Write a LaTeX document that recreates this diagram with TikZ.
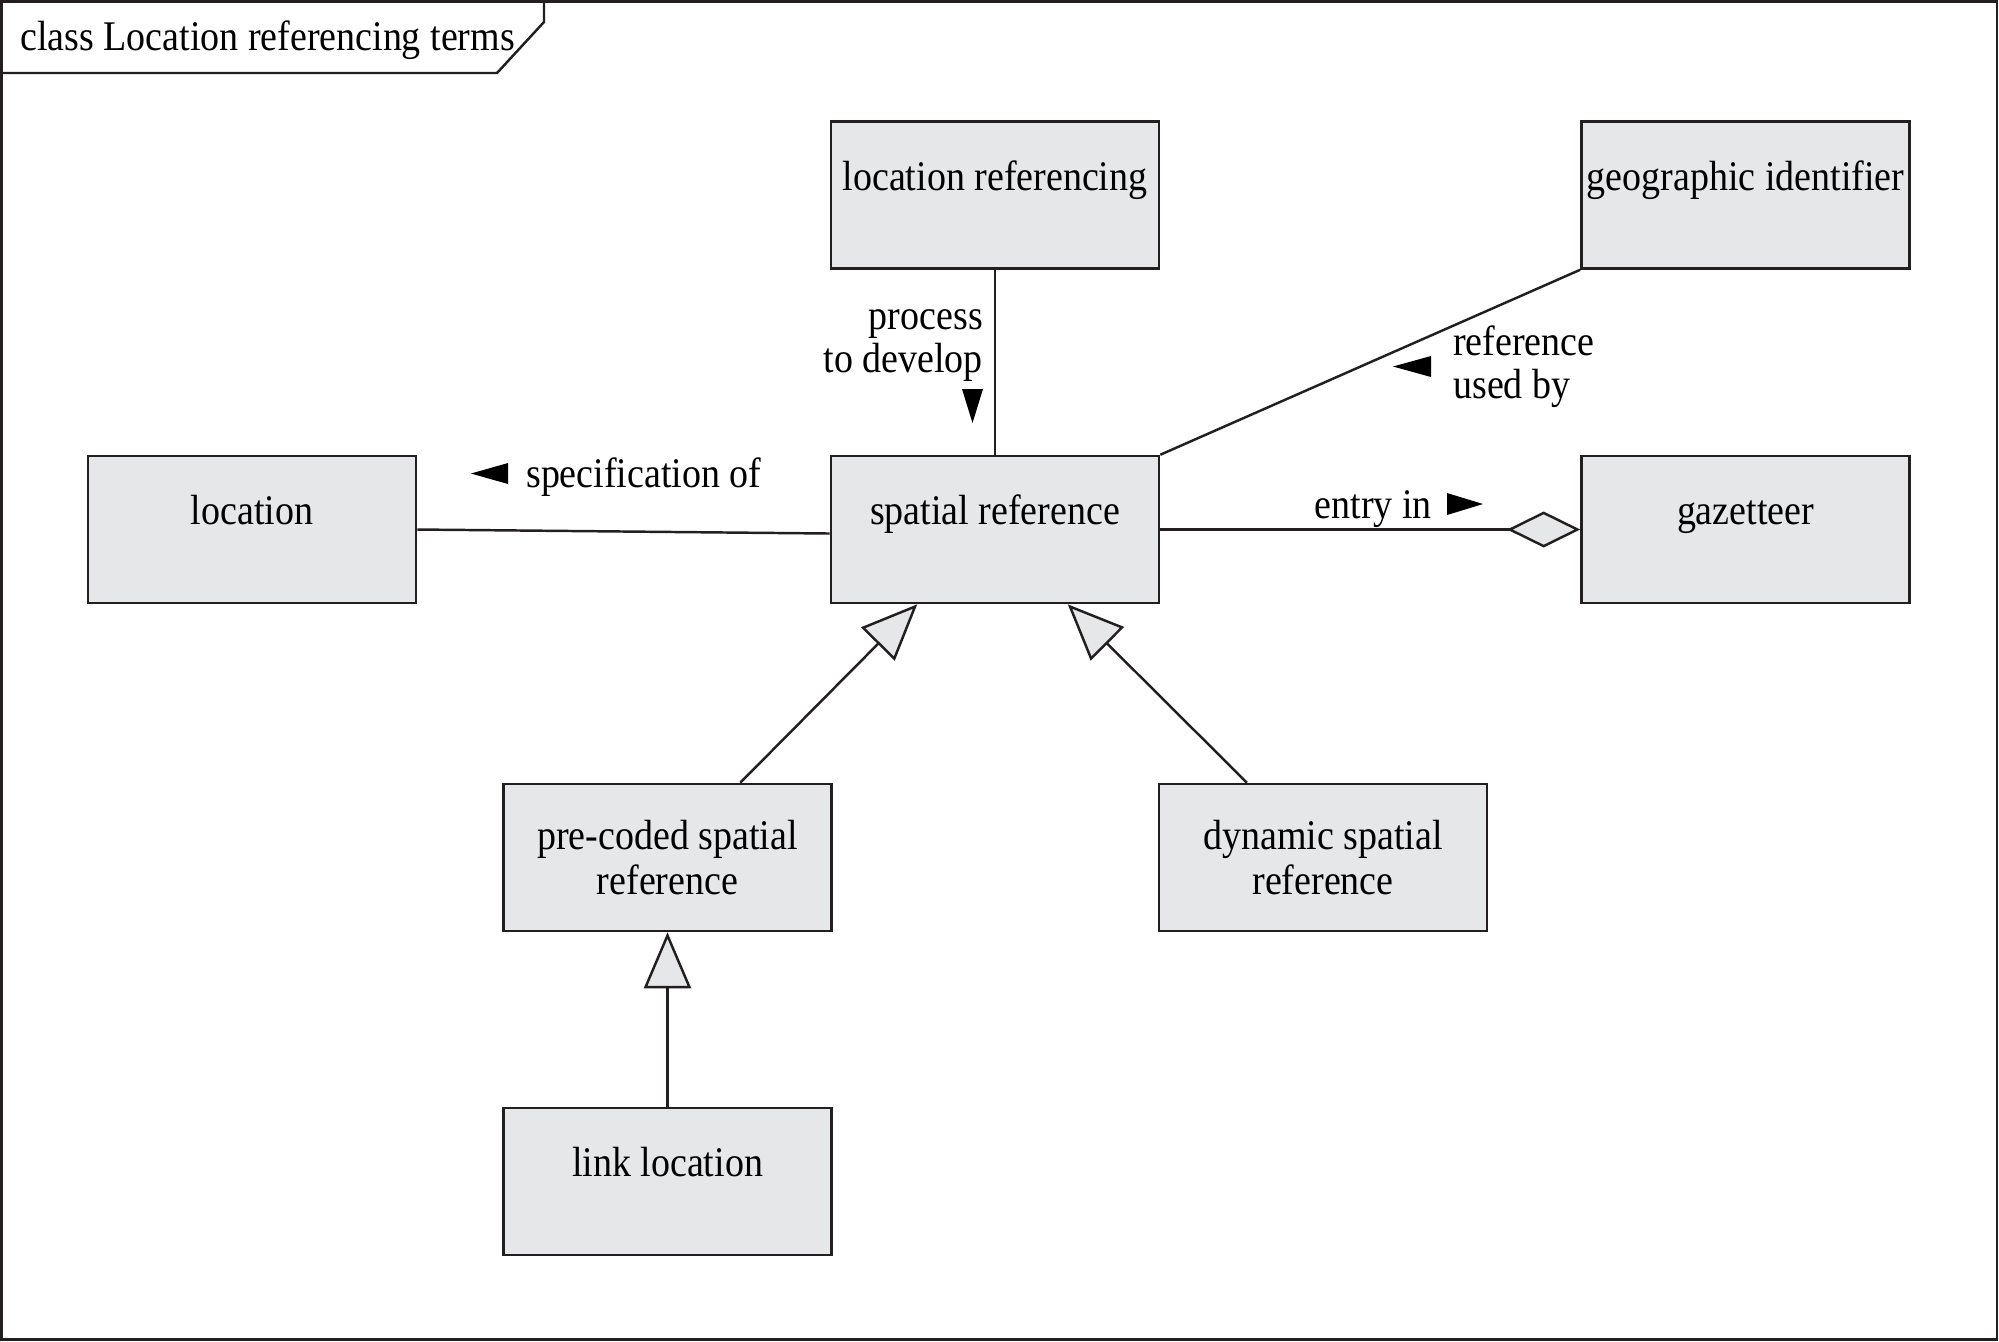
\documentclass[tikz,border=0pt]{standalone}
\usepackage{fontspec}
\setmainfont{Liberation Serif}[FakeStretch=0.9]
\usetikzlibrary{arrows.meta,calc}
\definecolor{classgray}{RGB}{230, 231, 232}
\definecolor{inkline}{RGB}{35, 31, 32}

\begin{document}
\begin{tikzpicture}[x=0.01cm, y=-0.01cm, line width=0.7pt, draw=inkline,
        umlclass/.style={draw=inkline, fill=classgray, minimum width=3.28cm, minimum height=1.47cm,
                         inner xsep=1pt, align=center, font=\fontsize{12}{13}\selectfont},
        oneline/.style={text height=0.3cm, text depth=0.4cm},
        lbl/.style={inner sep=0pt, font=\fontsize{12}{12}\selectfont},
        generalize/.style={-{Triangle[length=0.56cm, width=0.47cm, fill=classgray]}},
        aggregate/.style={-{Diamond[length=0.73cm, width=0.36cm, fill=classgray]}}]
            \useasboundingbox                                              (0, 0) rectangle (1999, 1341);
            % frame and name tab
            \draw[inkline]                                                 (1.5, 1.5) rectangle (1997, 1339.5);
            \draw[inkline]                                                 (0, 73) -- (497, 73) -- (544, 22) -- (544, 0);
            \node[lbl, anchor=base west] (title)                           at (19, 50) {class Location referencing terms};
            % classes
            \node[umlclass, oneline] (locref)                              at ( 995.0,  195.0) {location referencing};
            \node[umlclass, oneline] (geoid)                               at (1745.5,  195.0) {geographic identifier};
            \node[umlclass, oneline] (location)                            at ( 252.0,  529.5) {location};
            \node[umlclass, oneline] (spatial)                             at ( 995.0,  529.5) {spatial reference};
            \node[umlclass, oneline] (gazetteer)                           at (1745.5,  529.5) {gazetteer};
            \node[umlclass]          (precoded)                            at ( 667.5,  857.5) {pre-coded spatial\\reference};
            \node[umlclass]          (dynamic)                             at (1323.0,  857.5) {dynamic spatial\\reference};
            \node[umlclass, oneline] (link)                                at ( 667.5, 1181.5) {link location};
            % associations
            \draw[inkline]            (locref.south) -- (spatial.north);
            \draw[inkline]            (geoid.south west) -- (spatial.north east);
            \draw[inkline]            (location.east) -- ([yshift=-0.04cm]spatial.west);
            \draw[inkline, aggregate] (spatial.east) -- (gazetteer.west);
            % generalizations
            \draw[inkline, generalize] ($(precoded.north west)!0.72!(precoded.north east)$)
                                    -- ($(spatial.south west)!0.265!(spatial.south east)$);
            \draw[inkline, generalize] ($(dynamic.north west)!0.27!(dynamic.north east)$)
                                    -- ($(spatial.south west)!0.72!(spatial.south east)$);
            \draw[inkline, generalize] (link.north) -- (precoded.south);
            % association names
            \node[lbl, align=right, anchor=base east] (proclbl)            at ( 984, 372) {process\\to develop};
            \node[lbl, align=left,  anchor=base west] (usedlbl)            at (1452, 398) {reference\\used by};
            \node[lbl, anchor=base west]              (speclbl)            at ( 525, 487) {specification of};
            \node[lbl, anchor=base east]              (entrylbl)           at (1433, 518) {entry in};
            % reading direction marks
            \fill[black] ( 962, 389) -- ( 983, 389) -- ( 972.5, 423) -- cycle;
            \fill[black] (1393, 366.5) -- (1431, 356) -- (1431, 377) -- cycle;
            \fill[black] ( 471, 473.5) -- ( 508, 463) -- ( 508, 484) -- cycle;
            \fill[black] (1483, 504) -- (1447, 493) -- (1447, 515) -- cycle;
        \end{tikzpicture}
\end{document}
